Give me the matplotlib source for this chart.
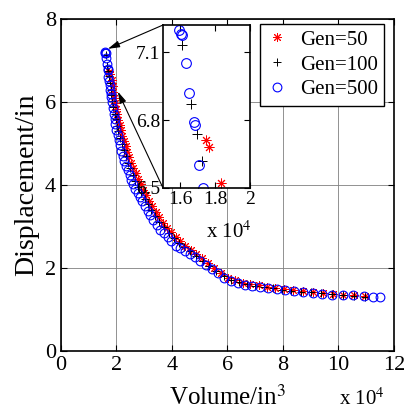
import numpy as np
import matplotlib
matplotlib.use('Agg')
import matplotlib.pyplot as plt

plt.rcParams['font.family'] = ['Liberation Serif', 'DejaVu Serif']
plt.rcParams['mathtext.fontset'] = 'stix'

# volume in units of 1e4 in^3, displacement in in
vol_50 = [1.745, 1.766, 1.832, 1.86, 1.89, 1.92, 1.95, 1.99, 2.03, 2.07, 2.11, 2.16, 2.21,
          2.27, 2.33, 2.39, 2.46, 2.53, 2.61, 2.69, 2.78, 2.87, 2.97, 3.07, 3.18, 3.29, 3.41,
          3.54, 3.68, 3.82, 3.97, 4.13, 4.30, 4.48, 4.67, 4.87, 5.08, 5.30, 5.53, 5.77, 6.02,
          6.28, 6.55, 6.83, 7.12, 7.42, 7.73, 8.05, 8.38, 8.72, 9.07, 9.43, 9.80, 10.18,
          10.57, 10.96]
disp_50 = [6.71, 6.68, 6.52, 6.38, 6.24, 6.10, 5.97, 5.83, 5.70, 5.57, 5.45, 5.32, 5.19,
           5.06, 4.93, 4.80, 4.67, 4.54, 4.41, 4.28, 4.15, 4.02, 3.89, 3.76, 3.62, 3.49, 3.36,
           3.22, 3.09, 2.97, 2.86, 2.75, 2.64, 2.54, 2.44, 2.34, 2.23, 2.11, 1.99, 1.87, 1.77,
           1.70, 1.65, 1.61, 1.58, 1.55, 1.52, 1.49, 1.46, 1.44, 1.42, 1.40, 1.38, 1.36,
           1.34, 1.32]

vol_100 = [1.611, 1.661, 1.694, 1.722, 1.76, 1.79, 1.82, 1.85, 1.89, 1.93, 1.97, 2.02, 2.07,
           2.13, 2.19, 2.26, 2.33, 2.41, 2.49, 2.58, 2.68, 2.78, 2.89, 3.01, 3.13, 3.26, 3.40,
           3.55, 3.71, 3.88, 4.06, 4.25, 4.45, 4.66, 4.88, 5.11, 5.35, 5.60, 5.86, 6.13, 6.41,
           6.70, 7.00, 7.31, 7.63, 7.96, 8.30, 8.65, 9.01, 9.38, 9.76, 10.15, 10.55, 10.96]
disp_100 = [7.13, 6.87, 6.74, 6.62, 6.45, 6.30, 6.16, 6.02, 5.87, 5.72, 5.58, 5.43, 5.29,
            5.14, 4.99, 4.84, 4.69, 4.54, 4.40, 4.25, 4.10, 3.96, 3.82, 3.67, 3.53, 3.39, 3.25,
            3.11, 2.98, 2.85, 2.72, 2.61, 2.50, 2.40, 2.30, 2.18, 2.05, 1.93, 1.81, 1.72, 1.66,
            1.61, 1.57, 1.54, 1.51, 1.48, 1.45, 1.43, 1.41, 1.39, 1.37, 1.35, 1.33, 1.31]

vol_500 = [1.594, 1.602, 1.607, 1.63, 1.651, 1.68, 1.686, 1.707, 1.73, 1.75, 1.77, 1.79, 1.81,
           1.84, 1.87, 1.90, 1.93, 1.96, 2.00, 2.04, 2.08, 2.12, 2.17, 2.22, 2.28, 2.34, 2.40,
           2.47, 2.54, 2.61, 2.68, 2.76, 2.84, 2.93, 3.02, 3.12, 3.22, 3.33, 3.45, 3.57, 3.70,
           3.84, 3.98, 4.13, 4.29, 4.46, 4.64, 4.83, 5.02, 5.22, 5.43, 5.65, 5.88, 6.12, 6.37,
           6.63, 6.90, 7.18, 7.47, 7.77, 8.08, 8.40, 8.73, 9.07, 9.42, 9.78, 10.15, 10.53,
           10.92, 11.25, 11.50]
disp_500 = [7.20, 7.18, 7.175, 7.05, 6.92, 6.79, 6.78, 6.60, 6.50, 6.40, 6.29, 6.20, 6.12,
            6.00, 5.85, 5.72, 5.60, 5.48, 5.33, 5.21, 5.09, 4.97, 4.83, 4.69, 4.57, 4.45, 4.35,
            4.24, 4.13, 4.02, 3.90, 3.80, 3.71, 3.61, 3.50, 3.38, 3.27, 3.15, 3.04, 2.92, 2.84,
            2.74, 2.65, 2.54, 2.47, 2.40, 2.33, 2.26, 2.18, 2.07, 1.97, 1.88, 1.76, 1.69, 1.63,
            1.59, 1.56, 1.54, 1.51, 1.49, 1.47, 1.44, 1.42, 1.40, 1.38, 1.36, 1.35, 1.34,
            1.33, 1.31, 1.30]

labels = ['Gen=50', 'Gen=100', 'Gen=500']

ast = (8, 2, 0)


def draw(ax, ms):
    ax.plot(vol_50, disp_50, ls='none', marker=ast, color='red', ms=ms, mew=0.7, label=labels[0])
    ax.plot(vol_100, disp_100, ls='none', marker='+', color='black', ms=ms, mew=0.7, label=labels[1])
    ax.plot(vol_500, disp_500, ls='none', marker='o', mfc='none', mec='blue', ms=ms, mew=0.8,
            label=labels[2])


def box_ticks(ax, size):
    ax.tick_params(direction='in', top=True, right=True, labelsize=size, length=4, width=0.8)
    for s in ax.spines.values():
        s.set_linewidth(1.2)


fig = plt.figure(figsize=(4.08, 4.12), dpi=100)
ax = fig.add_axes([0.1495, 0.148, 0.816, 0.806])
draw(ax, 6.3)
ax.set_xlim(0, 12)
ax.set_ylim(0, 8)
ax.set_xticks(range(0, 13, 2))
ax.set_yticks(range(0, 9, 2))
ax.grid(True, color='#808080', lw=0.6)
box_ticks(ax, 16)
ax.set_xlabel('Volume/in$^3$', fontsize=18, labelpad=7)
ax.set_ylabel('Displacement/in', fontsize=20, labelpad=4)
fig.text(0.888, 0.004, r'x 10$^4$', fontsize=15, ha='center', va='bottom')

leg = ax.legend(loc='upper right', bbox_to_anchor=(0.941, 0.942), bbox_transform=fig.transFigure,
                borderaxespad=0, fontsize=15, fancybox=False, edgecolor='black', framealpha=1,
                handlelength=1.0, handletextpad=0.6, borderpad=0.3, labelspacing=0.25)
leg.get_frame().set_linewidth(1.0)

axins = fig.add_axes([0.3995, 0.5437, 0.2132, 0.3956])
draw(axins, 7)
axins.set_xlim(1.5, 2.0)
axins.set_ylim(6.5, 7.22)
axins.set_xticks([1.6, 1.8, 2.0])
axins.set_xticklabels(['1.6', '1.8', '2'])
axins.set_yticks([6.5, 6.8, 7.1])
box_ticks(axins, 14)
axins.tick_params(pad=2)
fig.text(0.562, 0.41, r'x 10$^4$', fontsize=15, ha='center', va='bottom')

arrow = dict(arrowstyle='-|>,head_length=0.7,head_width=0.2', color='black', lw=0.8,
             shrinkA=0, shrinkB=0)
ax.annotate('', xy=(1.69, 7.28), xytext=(0, 1), textcoords=axins.transAxes,
            arrowprops=arrow, annotation_clip=False)
ax.annotate('', xy=(2.05, 6.25), xytext=(0, 0), textcoords=axins.transAxes,
            arrowprops=arrow, annotation_clip=False)

fig.savefig('out.png', dpi=100)
